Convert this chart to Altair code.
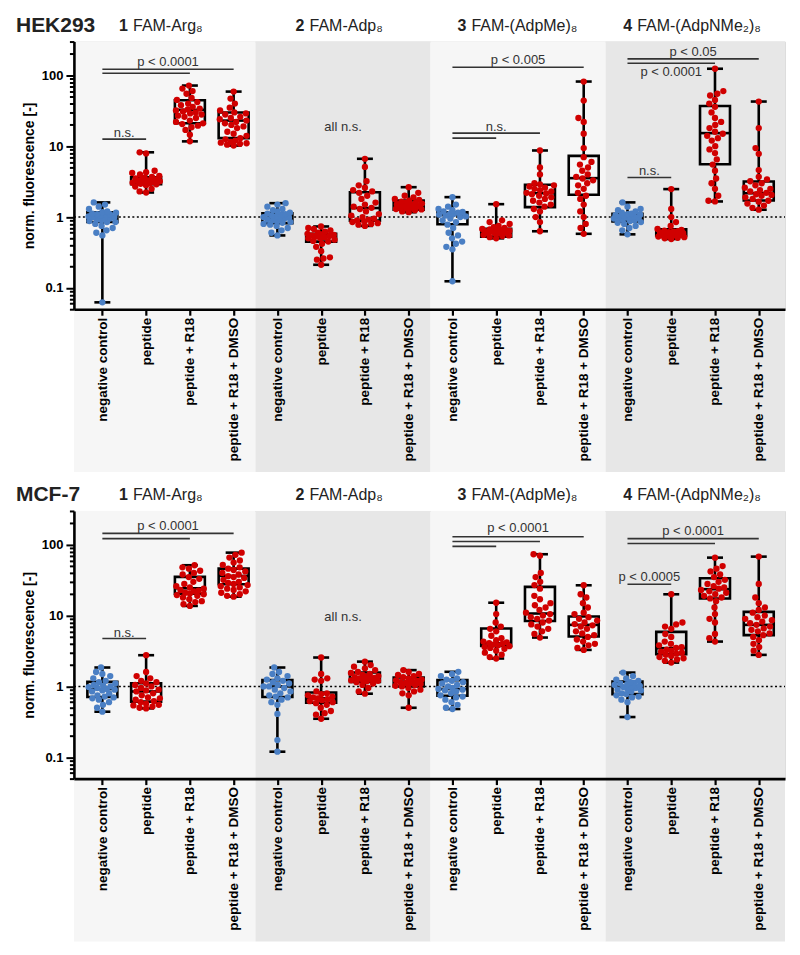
import altair as alt
import numpy as np
import pandas as pd

# ---------------- data ----------------
CONDITIONS = ["negative control", "peptide", "peptide + R18", "peptide + R18 + DMSO"]
GROUP_NUMS = ["1", "2", "3", "4"]
GROUP_NAMES = ["FAM-Arg₈", "FAM-Adp₈", "FAM-(AdpMe)₈", "FAM-(AdpNMe₂)₈"]
CELL_LINES = ["HEK293", "MCF-7"]

# box statistics, 16 boxes per panel (4 groups x 4 conditions)
HEK_MIN = [0.0625, 2.22, 11.7, 10.2, 0.55, 0.212, 0.75, 1.17, 0.124, 0.5, 0.63, 0.58, 0.57, 0.49, 1.66, 1.27]
HEK_Q1 = [0.85, 2.91, 21.1, 13.0, 0.82, 0.45, 0.89, 1.27, 0.79, 0.53, 1.38, 2.06, 0.87, 0.55, 5.57, 1.71]
HEK_MED = [1.02, 3.18, 32.6, 23.0, 0.97, 0.53, 1.34, 1.49, 1.08, 0.63, 2.17, 3.54, 1.0, 0.59, 15.3, 2.17]
HEK_Q3 = [1.17, 3.65, 44.5, 29.9, 1.13, 0.58, 2.24, 1.71, 1.17, 0.68, 2.85, 7.3, 1.11, 0.67, 37.0, 3.18]
HEK_MAX = [1.61, 8.2, 71.8, 59.0, 1.57, 0.736, 6.64, 2.64, 1.91, 1.52, 8.7, 81.8, 1.61, 2.48, 124.0, 42.7]

MCF_MIN = [0.44, 0.49, 13.7, 18.5, 0.12, 0.35, 0.79, 0.5, 0.48, 2.48, 4.9, 3.28, 0.37, 2.17, 4.3, 2.79]
MCF_Q1 = [0.71, 0.61, 20.4, 27.7, 0.71, 0.59, 1.16, 1.0, 0.74, 3.74, 8.4, 5.06, 0.78, 2.85, 17.4, 5.3]
MCF_MED = [0.92, 0.85, 24.3, 36.3, 1.0, 0.68, 1.31, 1.17, 0.92, 4.07, 10.7, 7.4, 1.0, 3.47, 23.6, 7.4]
MCF_Q3 = [1.16, 1.11, 35.2, 46.0, 1.23, 0.82, 1.57, 1.34, 1.23, 6.56, 25.4, 9.7, 1.17, 5.89, 33.7, 11.3]
MCF_MAX = [1.85, 2.76, 51.4, 77.4, 1.85, 2.56, 2.24, 1.7, 1.61, 15.2, 73.5, 26.8, 1.57, 20.0, 65.8, 68.0]

HEK_POINTS = [
    [0.0625, 0.55, 0.6, 0.65, 0.7, 0.75, 0.8, 0.85, 0.85, 0.88, 0.9, 0.92, 0.95, 0.97, 1.0, 1.0, 1.02, 1.05, 1.07, 1.1, 1.1, 1.12, 1.15, 1.17, 1.2, 1.3, 1.4, 1.5, 1.61],
    [2.22, 2.3, 2.5, 2.7, 2.8, 2.9, 2.95, 3.0, 3.05, 3.1, 3.15, 3.2, 3.2, 3.25, 3.3, 3.35, 3.4, 3.5, 3.6, 3.7, 3.8, 4.0, 4.2, 4.3, 4.5, 7.9, 8.2],
    [11.7, 14.5, 17, 18.5, 19.5, 20.5, 21, 22, 23, 25, 26, 27, 28, 29, 30, 31, 32, 33, 34, 36, 38, 40, 42, 45, 48, 55, 60, 65, 71.8],
    [10.2, 10.5, 10.8, 11, 11.2, 11.5, 12, 12.5, 13, 14, 15, 16, 18, 19, 20, 21, 22, 23, 24, 25, 26, 28, 29, 30, 32, 35, 40, 47, 59],
    [0.55, 0.6, 0.65, 0.7, 0.75, 0.78, 0.8, 0.83, 0.85, 0.88, 0.9, 0.92, 0.95, 0.97, 0.98, 1.0, 1.02, 1.05, 1.08, 1.1, 1.12, 1.15, 1.2, 1.25, 1.3, 1.4, 1.5, 1.57],
    [0.212, 0.25, 0.26, 0.27, 0.33, 0.38, 0.42, 0.45, 0.46, 0.48, 0.5, 0.5, 0.52, 0.53, 0.54, 0.55, 0.56, 0.57, 0.58, 0.6, 0.62, 0.65, 0.68, 0.7, 0.736],
    [0.75, 0.78, 0.8, 0.82, 0.85, 0.87, 0.9, 0.92, 0.95, 1.0, 1.05, 1.1, 1.2, 1.3, 1.35, 1.4, 1.5, 1.6, 1.8, 2.0, 2.2, 2.3, 2.4, 2.6, 2.8, 3.2, 5.1, 6.64],
    [1.17, 1.2, 1.25, 1.28, 1.3, 1.33, 1.35, 1.38, 1.4, 1.42, 1.45, 1.48, 1.5, 1.52, 1.55, 1.58, 1.6, 1.65, 1.7, 1.75, 1.8, 1.9, 2.0, 2.2, 2.64],
    [0.124, 0.35, 0.38, 0.42, 0.45, 0.5, 0.55, 0.6, 0.7, 0.78, 0.85, 0.9, 0.95, 1.0, 1.02, 1.05, 1.08, 1.1, 1.12, 1.15, 1.18, 1.2, 1.25, 1.3, 1.4, 1.5, 1.91],
    [0.5, 0.52, 0.54, 0.55, 0.56, 0.58, 0.6, 0.6, 0.61, 0.62, 0.63, 0.64, 0.65, 0.66, 0.67, 0.68, 0.7, 0.72, 0.75, 0.8, 0.85, 0.9, 1.52],
    [0.63, 0.85, 1.0, 1.2, 1.3, 1.4, 1.5, 1.6, 1.7, 1.8, 1.9, 2.0, 2.1, 2.15, 2.2, 2.3, 2.4, 2.5, 2.6, 2.7, 2.8, 2.9, 3.0, 4.0, 5.0, 8.7],
    [0.58, 0.7, 0.8, 1.0, 1.2, 1.5, 1.8, 2.0, 2.2, 2.5, 2.8, 3.0, 3.3, 3.5, 3.7, 4.0, 4.5, 5.0, 5.5, 6.0, 7.0, 9.4, 15, 22, 25, 44, 81.8],
    [0.57, 0.65, 0.7, 0.75, 0.8, 0.83, 0.85, 0.88, 0.9, 0.92, 0.95, 0.97, 0.98, 1.0, 1.0, 1.02, 1.04, 1.06, 1.08, 1.1, 1.12, 1.15, 1.2, 1.25, 1.3, 1.4, 1.61],
    [0.49, 0.5, 0.51, 0.52, 0.53, 0.54, 0.55, 0.55, 0.56, 0.57, 0.58, 0.59, 0.6, 0.6, 0.61, 0.62, 0.63, 0.64, 0.66, 0.68, 0.75, 0.85, 1.0, 1.3, 2.48],
    [1.66, 1.7, 2.0, 2.5, 3.0, 3.5, 4.5, 5.5, 6.5, 8, 9, 10, 12, 13, 14, 15, 16, 18, 20, 22, 25, 30, 36, 40, 45, 52, 55, 60, 124],
    [1.27, 1.35, 1.45, 1.55, 1.65, 1.7, 1.8, 1.9, 2.0, 2.05, 2.1, 2.2, 2.3, 2.4, 2.5, 2.6, 2.8, 3.0, 3.2, 3.4, 3.7, 4.6, 7.8, 9.4, 18, 42.7],
]

MCF_POINTS = [
    [0.44, 0.5, 0.55, 0.6, 0.65, 0.68, 0.7, 0.72, 0.75, 0.8, 0.85, 0.88, 0.9, 0.92, 0.95, 0.98, 1.0, 1.02, 1.05, 1.1, 1.15, 1.2, 1.3, 1.4, 1.5, 1.6, 1.85],
    [0.49, 0.5, 0.52, 0.54, 0.55, 0.57, 0.6, 0.62, 0.65, 0.68, 0.7, 0.75, 0.8, 0.85, 0.88, 0.9, 0.95, 1.0, 1.05, 1.1, 1.15, 1.2, 1.3, 1.4, 1.6, 2.76],
    [13.7, 14.5, 15.5, 16, 17, 18, 19, 19.5, 20, 20.5, 21, 22, 22.5, 23, 24, 25, 26, 28, 30, 33, 35, 38, 40, 43, 46, 48, 51.4],
    [18.5, 19, 20, 21, 22, 23, 24, 25, 26, 27, 28, 29, 30, 32, 34, 35, 36, 38, 40, 42, 44, 46, 48, 52, 56, 60, 66, 72, 77.4],
    [0.12, 0.175, 0.41, 0.55, 0.6, 0.65, 0.7, 0.72, 0.75, 0.8, 0.85, 0.9, 0.95, 1.0, 1.0, 1.05, 1.1, 1.15, 1.2, 1.25, 1.3, 1.4, 1.5, 1.6, 1.85],
    [0.35, 0.4, 0.42, 0.45, 0.5, 0.55, 0.58, 0.6, 0.62, 0.64, 0.66, 0.68, 0.7, 0.72, 0.75, 0.78, 0.8, 0.85, 1.2, 1.25, 1.3, 1.5, 2.56],
    [0.79, 0.85, 0.95, 1.05, 1.1, 1.15, 1.18, 1.2, 1.22, 1.25, 1.28, 1.3, 1.32, 1.35, 1.38, 1.4, 1.45, 1.5, 1.55, 1.6, 1.7, 1.8, 1.9, 2.0, 2.24],
    [0.5, 0.75, 0.8, 0.85, 0.9, 0.95, 1.0, 1.02, 1.05, 1.08, 1.1, 1.12, 1.15, 1.17, 1.2, 1.22, 1.25, 1.3, 1.35, 1.4, 1.45, 1.5, 1.6, 1.7],
    [0.48, 0.5, 0.55, 0.6, 0.65, 0.7, 0.72, 0.75, 0.8, 0.85, 0.88, 0.9, 0.92, 0.95, 1.0, 1.05, 1.1, 1.15, 1.2, 1.25, 1.3, 1.4, 1.5, 1.61],
    [2.48, 2.6, 2.8, 3.0, 3.2, 3.4, 3.5, 3.6, 3.7, 3.8, 3.9, 4.0, 4.1, 4.2, 4.3, 4.5, 4.8, 5.2, 6.0, 6.5, 7.0, 8.0, 10.5, 15.2],
    [4.9, 5.5, 6.0, 6.5, 7.0, 7.5, 8.0, 8.5, 9.0, 9.5, 10, 10.5, 11, 12, 13, 14, 15, 17, 19, 24, 27, 30, 35, 40, 70, 73.5],
    [3.28, 3.5, 3.8, 4.0, 4.3, 4.6, 5.0, 5.3, 5.6, 6.0, 6.5, 7.0, 7.3, 7.6, 8.0, 8.5, 9.0, 9.5, 10.5, 11, 13, 15, 18, 20, 26.8],
    [0.37, 0.6, 0.65, 0.7, 0.72, 0.75, 0.78, 0.8, 0.85, 0.88, 0.9, 0.92, 0.95, 0.98, 1.0, 1.02, 1.05, 1.08, 1.1, 1.12, 1.15, 1.2, 1.25, 1.3, 1.4, 1.57],
    [2.17, 2.3, 2.4, 2.5, 2.6, 2.7, 2.8, 2.9, 3.0, 3.1, 3.2, 3.3, 3.5, 3.6, 3.8, 4.0, 4.3, 5.0, 5.5, 6.5, 7.0, 7.5, 8.0, 20],
    [4.3, 4.8, 5.5, 8.0, 9.0, 10.5, 13, 16, 17.5, 18, 19, 20, 21, 22, 23, 24, 25, 26, 28, 30, 32, 35, 38, 42, 46, 50, 65.8],
    [2.79, 3.2, 3.6, 4.0, 4.5, 5.0, 5.3, 5.6, 6.0, 6.3, 6.6, 7.0, 7.4, 7.8, 8.2, 8.6, 9.0, 9.5, 10, 11, 12, 13, 15, 18, 28, 68],
]

# significance brackets: (from box, to box, level)
HEK_BRACKETS = [(0, 2, 107), (0, 3, 122), (0, 1, 12.6), (8, 11, 130), (8, 10, 15.3), (8, 9, 13.0),
                (12, 15, 171), (12, 14, 148), (12, 13, 3.62)]
HEK_LABELS = [(1.5, 153, "p < 0.0001"), (0.5, 15.3, "n.s."), (5.5, 18.5, "all n.s."), (9.5, 165, "p < 0.005"),
              (9.0, 18.5, "n.s."), (13.5, 217, "p < 0.05"), (13.0, 111, "p < 0.0001"), (12.5, 4.4, "n.s.")]
MCF_BRACKETS = [(0, 3, 145), (0, 2, 122), (0, 1, 4.74), (8, 11, 130), (8, 10, 111), (8, 9, 95),
                (12, 15, 122), (12, 14, 104), (12, 13, 27.7)]
MCF_LABELS = [(1.5, 184, "p < 0.0001"), (0.5, 5.76, "n.s."), (5.5, 9.68, "all n.s."), (9.5, 171, "p < 0.0001"),
              (13.5, 157, "p < 0.0001"), (12.5, 35.5, "p < 0.0005")]

# ---------------- layout / style ----------------
W, H = 712, 268
XMIN, XMAX = -0.65, 15.6
YMIN, YMAX = 0.05, 300
PXU = W / (XMAX - XMIN)
SHADE_BELOW = 163
BOX_HALF = 15
CAP_HALF = 8
DOT_D = 6.6
SWARM_MAX = 14
TITLE_NUM_DX = [-49, -47.5, -60.7, -70]
TITLE_GAP = 14
FONT = "Liberation Sans"
BLUE = "#4a7fc4"
RED = "#d00000"
SHADES = ["#f6f6f6", "#e7e7e7", "#f6f6f6", "#e7e7e7"]
LW = 2.6


def ypix(v):
    return H * (np.log10(YMAX) - np.log10(v)) / (np.log10(YMAX) - np.log10(YMIN))


def swarm(vals, d=DOT_D, maxw=SWARM_MAX):
    order = np.argsort(vals, kind="stable")
    placed = []
    offs = [0.0] * len(vals)
    for i in order:
        y = ypix(vals[i])
        x = 0.0
        for f in (1.0, 0.85, 0.7, 0.55, 0.4, 0.25, 0.1):
            dd = d * f
            forb = []
            for px, py in placed:
                dy = abs(py - y)
                if dy < dd:
                    dx = np.sqrt(dd * dd - dy * dy)
                    forb.append((px - dx, px + dx))
            cands = [0.0] + [a for a, b in forb] + [b for a, b in forb]
            cands = [c for c in cands if abs(c) <= maxw]
            cands.sort(key=lambda c: (abs(c), c))
            found = None
            for c in cands:
                if all(not (a + 1e-6 < c < b - 1e-6) for a, b in forb):
                    found = c
                    break
            if found is not None:
                x = found
                break
        placed.append((x, y))
        offs[int(i)] = x
    return offs


xscale = alt.Scale(domain=[XMIN, XMAX], nice=False, zero=False)
yscale = alt.Scale(type="log", domain=[YMIN, YMAX], nice=False)

xaxis = alt.Axis(
    values=list(range(16)), title=None, grid=False,
    labelExpr="['negative control','peptide','peptide + R18','peptide + R18 + DMSO'][datum.value % 4]",
    labelAngle=270, labelAlign="right", labelBaseline="middle", labelFontSize=13.5,
    labelFontWeight="bold", labelColor="black", labelPadding=2, labelOverlap=False, labelFlush=False,
    tickSize=6, tickWidth=2.2, tickColor="black", domainWidth=LW, domainColor="black", zindex=1,
)

y_vals = []
for e in range(-2, 3):
    for m in range(1, 10):
        v = round(m * 10 ** e, 6)
        if YMIN <= v <= YMAX:
            y_vals.append(v)

major_test = "datum.value == 0.1 || datum.value == 1 || datum.value == 10 || datum.value == 100"
yaxis = alt.Axis(
    values=y_vals, title="norm. fluorescence [-]", grid=False,
    labelExpr="datum.value == 0.1 ? '0.1' : datum.value == 1 ? '1' : datum.value == 10 ? '10' : datum.value == 100 ? '100' : ''",
    labelFontSize=13, labelFontWeight="bold", labelColor="black", labelPadding=3,
    labelOverlap=False, labelFlush=False,
    tickSize={"condition": {"test": major_test, "value": 8}, "value": 4.5},
    tickWidth=2, tickColor="black", domainWidth=LW, domainColor="black",
    titleFontSize=14, titleFontWeight="bold", titleColor="black", titlePadding=5, zindex=1,
)


def X(field):
    return alt.X(field, scale=xscale, axis=xaxis)


def Y(field):
    return alt.Y(field, scale=yscale, axis=yaxis)


def panel(name, mins, q1s, meds, q3s, maxs, points, brackets, labels):
    shade_df = pd.DataFrame({"x0": [XMIN, 3.5, 7.5, 11.5], "x1": [3.5, 7.5, 11.5, XMAX], "c": SHADES})
    shade = alt.Chart(shade_df).mark_rect().encode(
        x=X("x0:Q"), x2="x1:Q", y=alt.value(0), y2=alt.value(H + SHADE_BELOW),
        color=alt.Color("c:N", scale=None),
    )

    ref = alt.Chart(pd.DataFrame({"v": [1.0]})).mark_rule(
        color="black", strokeDash=[2, 2.5], strokeWidth=1.5
    ).encode(y=Y("v:Q"), x=alt.value(0), x2=alt.value(W))

    idx = np.arange(16)
    box_df = pd.DataFrame({
        "idx": idx, "mn": mins, "q1": q1s, "med": meds, "q3": q3s, "mx": maxs,
        "xl": idx - BOX_HALF / PXU, "xr": idx + BOX_HALF / PXU,
        "cl": idx - CAP_HALF / PXU, "cr": idx + CAP_HALF / PXU,
    })
    base = alt.Chart(box_df)
    w_lo = base.mark_rule(color="black", strokeWidth=LW).encode(x=X("idx:Q"), y=Y("mn:Q"), y2="q1:Q")
    w_hi = base.mark_rule(color="black", strokeWidth=LW).encode(x=X("idx:Q"), y=Y("q3:Q"), y2="mx:Q")
    cap_lo = base.mark_rule(color="black", strokeWidth=LW).encode(x=X("cl:Q"), x2="cr:Q", y=Y("mn:Q"))
    cap_hi = base.mark_rule(color="black", strokeWidth=LW).encode(x=X("cl:Q"), x2="cr:Q", y=Y("mx:Q"))
    box = base.mark_rect(fill="transparent", stroke="black", strokeWidth=LW).encode(
        x=X("xl:Q"), x2="xr:Q", y=Y("q1:Q"), y2="q3:Q")
    med = base.mark_rule(color="black", strokeWidth=LW).encode(x=X("xl:Q"), x2="xr:Q", y=Y("med:Q"))

    rows = []
    for i, vals in enumerate(points):
        offs = swarm(vals)
        for v, o in zip(vals, offs):
            rows.append({"x": i + o / PXU, "v": v, "kind": "control" if i % 4 == 0 else "peptide"})
    pts = alt.Chart(pd.DataFrame(rows)).mark_circle(size=40, opacity=1).encode(
        x=X("x:Q"), y=Y("v:Q"),
        color=alt.Color("kind:N", scale=alt.Scale(domain=["control", "peptide"], range=[BLUE, RED]), legend=None),
    )

    br_df = pd.DataFrame(brackets, columns=["a", "b", "y"])
    br = alt.Chart(br_df).mark_rule(color="#333333", strokeWidth=1.6).encode(
        x=X("a:Q"), x2="b:Q", y=Y("y:Q"))
    lb_df = pd.DataFrame(labels, columns=["x", "y", "t"])
    lb = alt.Chart(lb_df).mark_text(fontSize=13, color="#333333", baseline="middle", align="center").encode(
        x=X("x:Q"), y=Y("y:Q"), text="t:N")

    centers = [1.5, 5.5, 9.5, 13.5]
    tnum = pd.DataFrame({"x": [c + d / PXU for c, d in zip(centers, TITLE_NUM_DX)], "t": GROUP_NUMS})
    trest = pd.DataFrame({"x": [c + (d + TITLE_GAP) / PXU for c, d in zip(centers, TITLE_NUM_DX)], "t": GROUP_NAMES})
    t1 = alt.Chart(tnum).mark_text(fontSize=16, fontWeight="bold", color="#222222", align="left",
                                   baseline="alphabetic").encode(x=X("x:Q"), y=alt.value(-11), text="t:N")
    t2 = alt.Chart(trest).mark_text(fontSize=16, color="#222222", align="left",
                                    baseline="alphabetic").encode(x=X("x:Q"), y=alt.value(-11), text="t:N")
    cl = alt.Chart(pd.DataFrame({"t": [name]})).mark_text(
        fontSize=21, fontWeight="bold", color="#222222", align="left", baseline="alphabetic"
    ).encode(x=alt.value(-58), y=alt.value(-9.5), text="t:N")

    return alt.layer(shade, ref, w_lo, w_hi, cap_lo, cap_hi, box, med, pts, br, lb, t1, t2, cl).properties(
        width=W, height=H)


top = panel(CELL_LINES[0], HEK_MIN, HEK_Q1, HEK_MED, HEK_Q3, HEK_MAX, HEK_POINTS, HEK_BRACKETS, HEK_LABELS)
bottom = panel(CELL_LINES[1], MCF_MIN, MCF_Q1, MCF_MED, MCF_Q3, MCF_MAX, MCF_POINTS, MCF_BRACKETS, MCF_LABELS)

chart = alt.vconcat(top, bottom, spacing=11).properties(
    padding={"left": 7, "top": 6, "right": 5, "bottom": 5}
).configure_view(stroke=None).configure(font=FONT)

chart.save("out.html", embed_options={"renderer": "svg", "actions": False})
